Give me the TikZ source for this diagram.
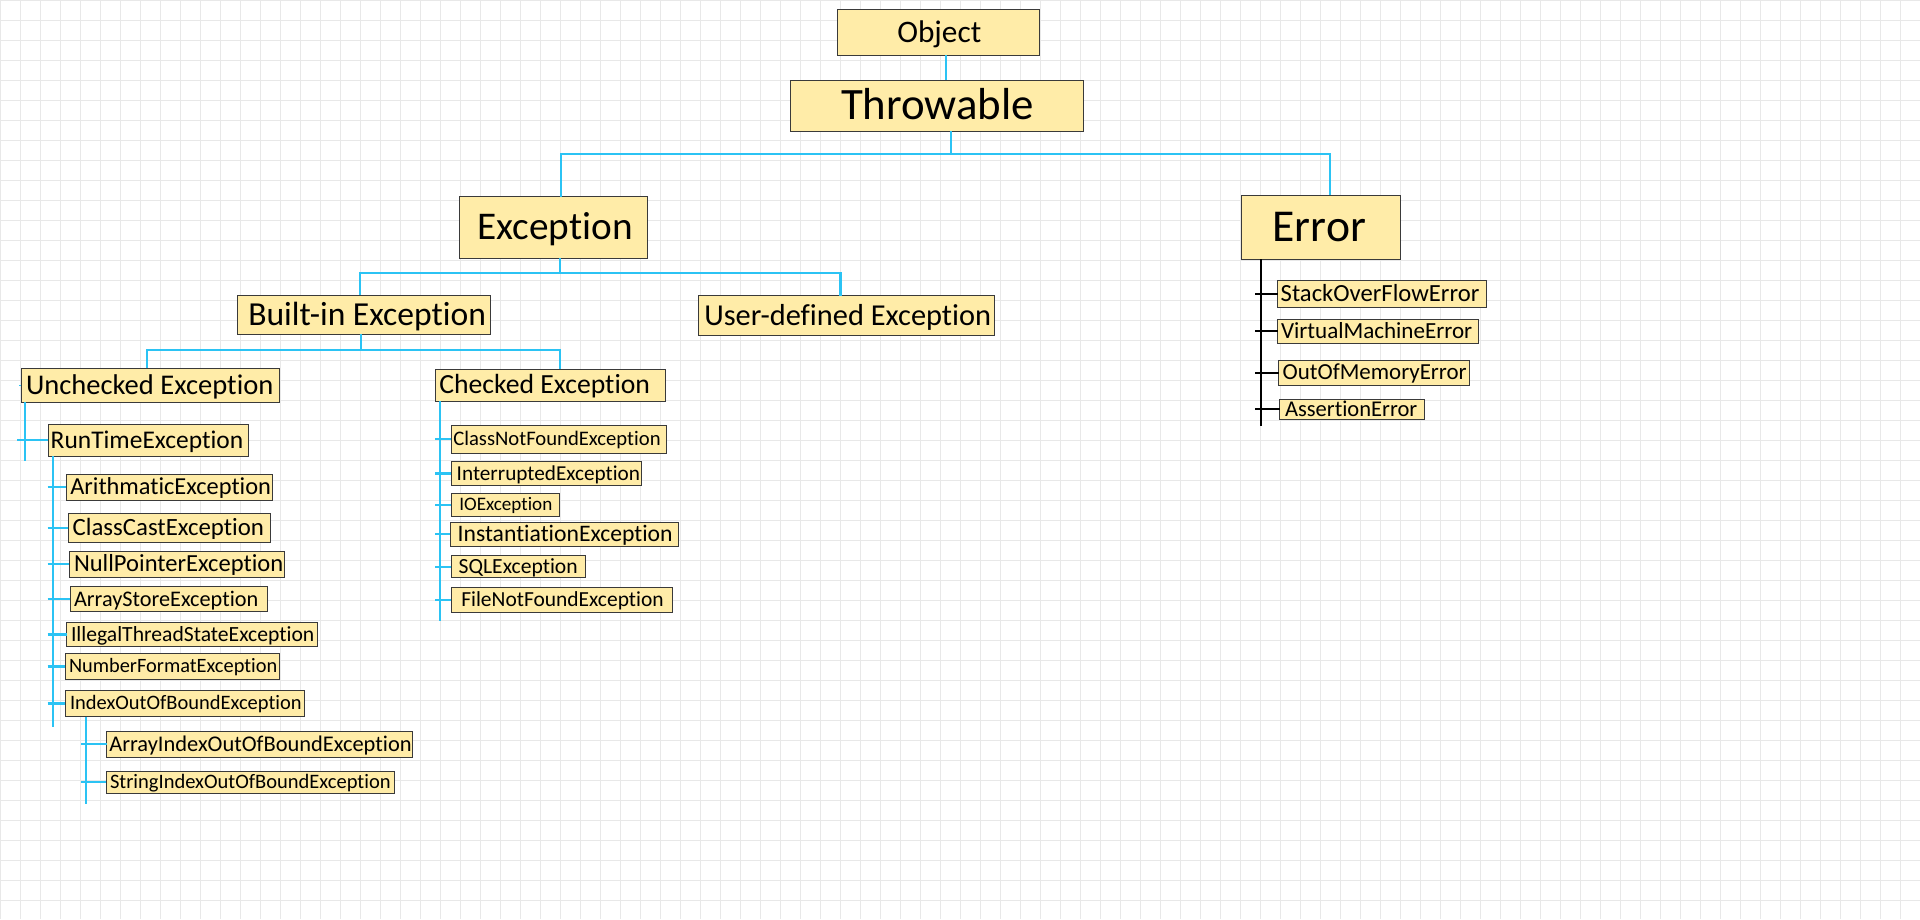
\documentclass[tikz,border=0pt]{standalone}
\usepackage{fontspec}
\setmainfont{Carlito}[Ligatures={NoCommon,NoContextual}]
\definecolor{boxfill}{HTML}{FFECA8}
\definecolor{boxline}{HTML}{3A3A3A}
\definecolor{connc}{HTML}{2BC3F4}
\definecolor{gridc}{HTML}{E8E8E8}
\newcommand{\fitt}[2]{%
  \setbox0=\hbox{\fontsize{10pt}{12pt}\selectfont #2}%
  \pgfmathsetmacro\fsz{10*#1/\the\wd0}%
  \pgfmathsetmacro\capht{0.632*\fsz}%
  \fontsize{\fsz pt}{\fsz pt}\selectfont
  \raisebox{0pt}[\capht pt][0pt]{#2}%
}
\newcommand{\bx}[8]{%
  \pgfmathsetmacro\bxw{#4-#2}%
  \pgfmathsetmacro\bxh{#5-#3}%
  \pgfmathsetmacro\bxcx{(#2+#4)/2}%
  \pgfmathsetmacro\bxcy{(#3+#5)/2}%
  \pgfmathsetmacro\bxtl{#6-#2}%
  \pgfmathsetmacro\bxtw{#7-#6}%
  \node[clsbox, minimum width=\bxw pt, minimum height=\bxh pt] (#1) at (\bxcx,\bxcy)
    {\makebox[\bxw pt][l]{\hspace*{\bxtl pt}\fitt{\bxtw}{#8}}};%
}
\tikzset{
  clsbox/.style={draw=boxline, fill=boxfill, line width=1pt, inner sep=0pt, outer sep=0pt, anchor=center},
  conn/.style={draw=connc, line width=2.2pt},
  errconn/.style={draw=black, line width=2.2pt},
  gridline/.style={draw=gridc, line width=1pt}
}
\begin{document}
\begin{tikzpicture}[x=1pt,y=-1pt]
\useasboundingbox (0,0) rectangle (1920,919);
\fill[white] (0,0) rectangle (1920,919);
\foreach \i in {0,20,...,1920} \draw[gridline] (\i,0) -- (\i,919);
\foreach \j in {0,20,...,900} \draw[gridline] (0,\j) -- (1920,\j);

% boxes
\bx{Object}{837.7}{9.3}{1039.7}{55}{897.3}{981.3}{Object}
\bx{Throwable}{790.3}{80.3}{1083.3}{131}{841}{1034}{Throwable}
\bx{Exception}{459.3}{196.7}{647.5}{258.3}{477.5}{632.9}{Exception}
\bx{Error}{1241.3}{195.3}{1400.7}{259.3}{1272.7}{1366}{Error}
\bx{Builtin}{237.3}{295}{490.3}{334.3}{248.3}{486}{Built-in Exception}
\bx{Userdef}{698.2}{295.7}{994.6}{335.3}{704.3}{991.1}{User-defined Exception}
\bx{Unchecked}{21.3}{368.3}{279.3}{402.3}{26}{273.3}{Unchecked Exception}
\bx{Checked}{435.3}{369}{665.7}{401.3}{439.3}{650}{Checked Exception}
\bx{RunTime}{48.3}{424}{248.3}{456.3}{50.7}{243.3}{RunTimeException}
\bx{Arith}{66.3}{474}{272.3}{500.3}{70.3}{271}{ArithmaticException}
\bx{ClassCast}{68.3}{513.3}{270.3}{542.3}{72.7}{264}{ClassCastException}
\bx{NullPtr}{69.3}{551}{284.3}{577.3}{74}{283.3}{NullPointerException}
\bx{ArrStore}{70.3}{586.7}{267.3}{611.3}{74}{258.3}{ArrayStoreException}
\bx{IllThread}{66.7}{622.7}{317.3}{646.3}{71}{314.3}{IllegalThreadStateException}
\bx{NumFmt}{65}{653.3}{279.3}{679.7}{69}{277.3}{NumberFormatException}
\bx{IdxOOB}{65}{690.3}{304.7}{716.7}{70}{301.7}{IndexOutOfBoundException}
\bx{ArrIdx}{106.7}{731.3}{412.3}{757.3}{109.3}{411.7}{ArrayIndexOutOfBoundException}
\bx{StrIdx}{106.3}{771.3}{394.7}{793.3}{110}{390.7}{StringIndexOutOfBoundException}
\bx{ClassNF}{451.3}{425}{666.7}{453}{453.3}{660.7}{ClassNotFoundException}
\bx{Interrupted}{451.3}{461.7}{641}{485.3}{456.7}{640}{InterruptedException}
\bx{IOExc}{451.3}{493.3}{559.3}{516}{459.3}{552.3}{IOException}
\bx{Instant}{450.3}{522.3}{678.3}{546}{457.7}{672.7}{InstantiationException}
\bx{SQLExc}{451.3}{555.7}{585.3}{577.7}{458.7}{577.7}{SQLException}
\bx{FileNF}{451.3}{587.3}{672.7}{612}{461.3}{663.7}{FileNotFoundException}
\bx{StackOF}{1277.7}{280.7}{1486}{307.3}{1280.7}{1479.3}{StackOverFlowError}
\bx{VirtualME}{1277.7}{319}{1478.3}{343.7}{1281}{1472.3}{VirtualMachineError}
\bx{OOMErr}{1278.7}{360}{1469.3}{385.3}{1282.7}{1466.7}{OutOfMemoryError}
\bx{AssertErr}{1279.7}{399.3}{1424.3}{419.3}{1285}{1417.3}{AssertionError}

% Object -> Throwable
\coordinate (j0) at (946.3,0);
\draw[conn] (Object.south -| j0) -- (Throwable.north -| j0);

% Throwable -> Exception, Error
\coordinate (t1) at (950.7,154);
\coordinate (tl) at (560.7,154);
\coordinate (tr) at (1329.7,154);
\draw[conn] (Throwable.south -| t1) -- (t1);
\draw[conn] (Exception.north -| tl) -- (tl) -- (tr) -- (Error.north -| tr);

% Exception -> Built-in, User-defined
\coordinate (e1) at (560,272.7);
\coordinate (el) at (360,272.7);
\coordinate (er) at (840.4,272.7);
\draw[conn] (Exception.south -| e1) -- (e1);
\draw[conn] (Builtin.north -| el) -- (el) -- (er) -- (Userdef.north -| er);

% Built-in -> Unchecked, Checked
\coordinate (b1) at (361.3,350);
\coordinate (bl) at (146.7,350);
\coordinate (br) at (560.3,350);
\draw[conn] (Builtin.south -| b1) -- (b1);
\draw[conn] (Unchecked.north -| bl) -- (bl) -- (br) -- (Checked.north -| br);

% Unchecked -> RunTime
\coordinate (u0) at (24.7,460.7);
\coordinate (ut) at (17.3,0);
\coordinate (uw) at (19.3,0);
\draw[conn] (Unchecked.south -| u0) -- (u0);
\draw[conn] (RunTime.west -| ut) -- (RunTime.west);
\draw[draw=connc, line width=1pt] (Unchecked.west -| uw) -- (Unchecked.west);

% RunTime -> children
\coordinate (r0) at (52.7,726.7);
\coordinate (rt) at (47.7,0);
\draw[conn] (RunTime.south -| r0) -- (r0);
\foreach \c in {Arith,ClassCast,NullPtr,ArrStore,IllThread,NumFmt,IdxOOB}
  \draw[conn] (\c.west -| rt) -- (\c.west);

% IndexOutOfBound -> children
\coordinate (i0) at (86.3,804);
\coordinate (it) at (81.3,0);
\draw[conn] (IdxOOB.south -| i0) -- (i0);
\foreach \c in {ArrIdx,StrIdx}
  \draw[conn] (\c.west -| it) -- (\c.west);

% Checked -> children
\coordinate (c0) at (440,620.7);
\coordinate (ct) at (435.3,0);
\draw[conn] (Checked.south -| c0) -- (c0);
\foreach \c in {ClassNF,Interrupted,IOExc,Instant,SQLExc,FileNF}
  \draw[conn] (\c.west -| ct) -- (\c.west);

% Error -> children
\coordinate (x0) at (1260.7,426);
\coordinate (xt) at (1255,0);
\draw[errconn] (Error.south -| x0) -- (x0);
\foreach \c in {StackOF,VirtualME,OOMErr,AssertErr}
  \draw[errconn] (\c.west -| xt) -- (\c.west);
\end{tikzpicture}
\end{document}
